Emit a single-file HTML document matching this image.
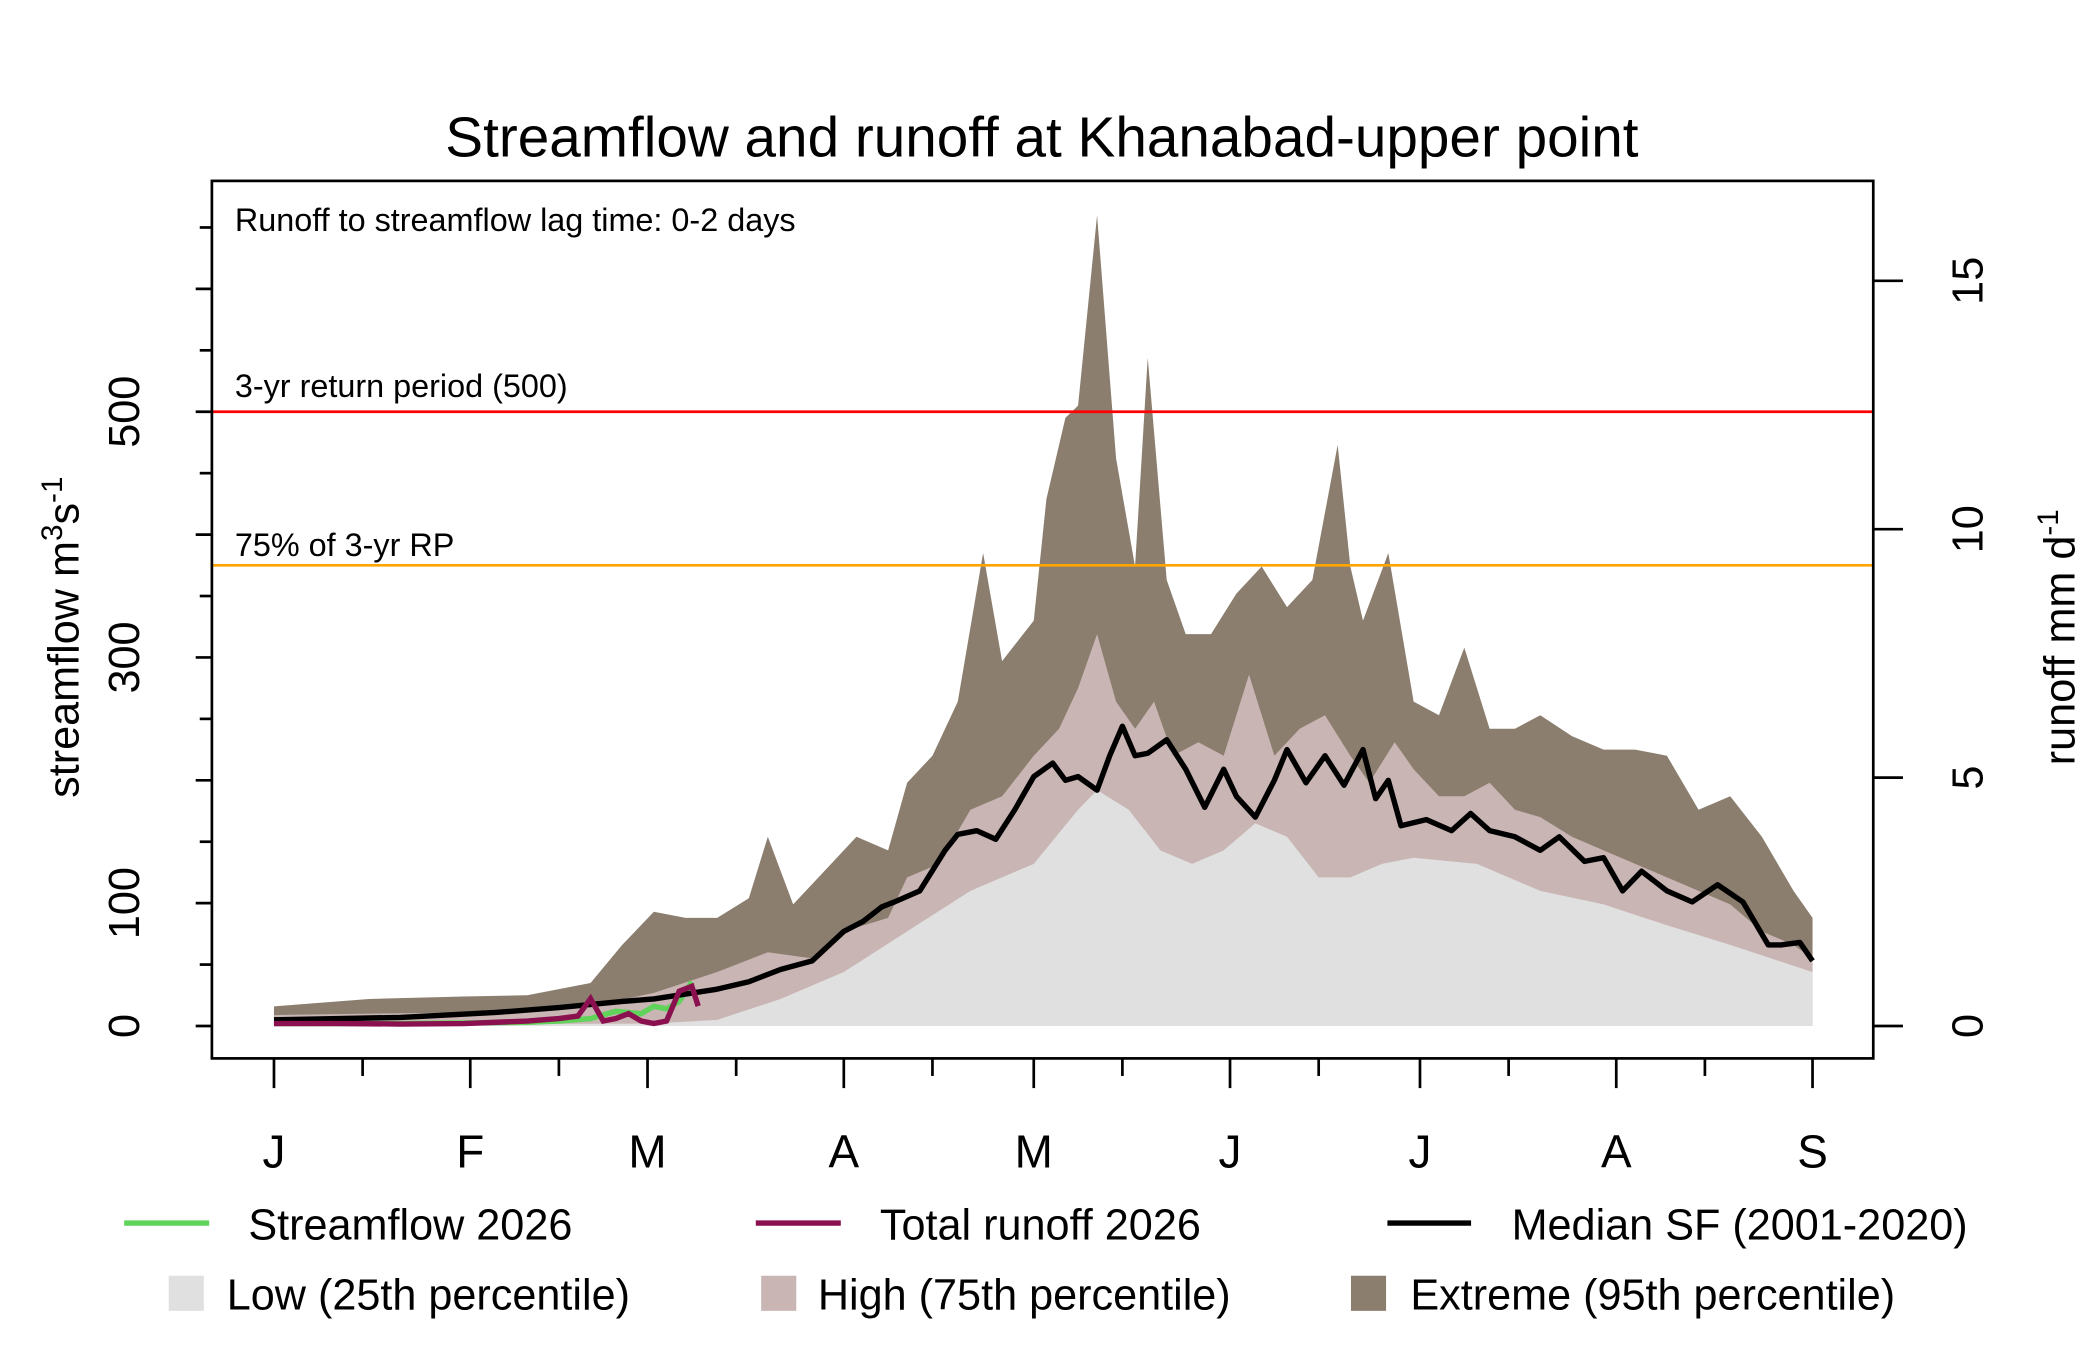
<!DOCTYPE html>
<html><head><meta charset="utf-8"><style>
html,body{margin:0;padding:0;background:#fff;}
svg{display:block;font-family:"Liberation Sans",sans-serif;}
</style></head><body>
<svg id="chart" width="2100" height="1350" viewBox="0 0 1556 1000" preserveAspectRatio="none" xmlns="http://www.w3.org/2000/svg">
<g id="areas"></g>
<g id="lines"></g>
<g id="axes"></g>
</svg>
<script>
const monthLabels = ["J","F","M","A","M","J","J","A","S"];
const monthStarts = [0,31,59,90,120,151,181,212,243];
const leftTicks = [0,100,300,500];
const rightTicks = [0,5,10,15];
const rpValue = 500;
const rp75Value = 375;

const extDays = [0,15,30,40,50,55,60,65,70,75,78,82,88,92,97,100,104,108,112,115,120,122,125,127,130,133,136,138,141,144,148,152,156,160,164,168,170,172,176,180,184,188,192,196,200,205,210,215,220,225,230,235,240,243];
const extVals = [16,22,24,25,35,66,93,88,88,104,154,99,132,154,143,198,220,264,385,297,330,429,495,505,660,462,374,544,363,319,319,352,374,341,363,473,374,330,385,264,253,308,242,242,253,236,225,225,220,176,187,154,110,88];
const highDays = [0,30,50,60,70,78,85,90,97,100,105,110,115,120,124,127,130,133,136,139,142,146,150,154,158,162,166,170,173,177,180,184,188,192,196,200,205,210,215,220,225,230,235,240,243];
const highVals = [9,11,16,27,44,60,55,77,88,121,132,176,187,220,242,275,319,264,242,264,220,231,220,286,220,242,253,220,198,231,209,187,187,198,176,170,154,143,132,121,110,99,77,66,55];
const lowDays = [0,60,70,80,90,100,110,120,127,130,135,140,145,150,155,160,165,170,175,180,190,200,210,220,230,240,243];
const lowVals = [1,2,5,22,44,77,110,132,176,192,176,143,132,143,165,154,121,121,132,137,132,110,99,82,66,49,44];
const medDays = [0,20,35,45,55,60,65,70,75,80,85,90,93,96,98,102,106,108,111,114,117,120,123,125,127,130,132,134,136,138,141,144,147,150,152,155,158,160,163,166,169,172,174,176,178,182,186,189,192,196,200,203,207,210,213,216,220,224,228,232,236,238,241,243];
const medVals = [5,7,11,15,20,22,26,30,36,46,53,77,85,97,101,110,143,156,159,152,176,203,214,200,203,192,220,244,220,222,233,209,178,209,187,170,200,225,198,220,196,225,185,200,163,168,159,173,159,154,143,154,134,137,110,126,110,101,115,101,66,66,68,53];
const sfDays = [0,20,40,45,50,54,58,60,62,64,66];
const sfVals = [2,2,3,4,6,12,10,16,14,20,36];
const roDays = [0,10,20,30,40,45,48,50,52,54,56,58,60,62,64,66,67];
const roVals = [0.05,0.05,0.04,0.05,0.1,0.15,0.2,0.55,0.1,0.15,0.25,0.1,0.05,0.1,0.7,0.8,0.4];

const X0=203, PX_DAY=(1343-203)/243, Y0=760;
const x = d => X0 + d*PX_DAY;
const yL = v => Y0 - v*0.91;
const yR = v => Y0 - v*36.8;
const NS="http://www.w3.org/2000/svg";
function mk(tag, parent, attrs){const e=document.createElementNS(NS,tag);for(const k in attrs)e.setAttribute(k,attrs[k]);parent.appendChild(e);return e;}
const areas=document.getElementById('areas'), lines=document.getElementById('lines'), axes=document.getElementById('axes');

function areaPath(days, vals){let p=`M${x(days[0])},${Y0}`;days.forEach((d,i)=>p+=` L${x(d)},${yL(vals[i])}`);p+=` L${x(days[days.length-1])},${Y0} Z`;return p;}
function linePath(days, vals, f){return days.map((d,i)=>(i?'L':'M')+x(d)+','+f(vals[i])).join(' ');}

let e;
e=mk('path',areas,{d:areaPath(extDays,extVals),fill:'#8b7e6e'});


e=mk('path',areas,{d:areaPath(highDays,highVals),fill:'#c9b5b3'});


e=mk('path',areas,{d:areaPath(lowDays,lowVals),fill:'#e0e0e0'});



e=mk('line',lines,{x1:157,x2:1388,y1:yL(rpValue),y2:yL(rpValue),stroke:'#ff0000','stroke-width':2});


e=mk('line',lines,{x1:157,x2:1388,y1:yL(rp75Value),y2:yL(rp75Value),stroke:'#ffa500','stroke-width':2});



e=mk('path',lines,{d:linePath(sfDays,sfVals,yL),fill:'none',stroke:'#5fd35a','stroke-width':4});


e=mk('path',lines,{d:linePath(medDays,medVals,yL),fill:'none',stroke:'#000','stroke-width':4,'stroke-linejoin':'round'});


e=mk('path',lines,{d:linePath(roDays,roVals,yR),fill:'none',stroke:'#8b1050','stroke-width':4});



e=mk('rect',axes,{x:157,y:134,width:1231,height:650,fill:'none',stroke:'#000','stroke-width':2});



monthStarts.forEach((d,i)=>{
  mk('line',axes,{x1:x(d),x2:x(d),y1:784,y2:806,stroke:'#000','stroke-width':2});
  const t=mk('text',axes,{x:x(d),y:865,'font-size':34,'text-anchor':'middle'});t.textContent=monthLabels[i];
  
  
  if(i<monthStarts.length-1) mk('line',axes,{x1:x(d+14),x2:x(d+14),y1:784,y2:797,stroke:'#000','stroke-width':2});
});
for(let v=0; v<=650; v+=50){
  const major = v%100===0;
  mk('line',axes,{x1:157,x2:major?145:148,y1:yL(v),y2:yL(v),stroke:'#000','stroke-width':2});
}
leftTicks.forEach(v=>{
  const t=mk('text',axes,{x:0,y:0,'font-size':32,'text-anchor':'middle',transform:`translate(103,${yL(v)}) rotate(-90)`});t.textContent=v;
  
  
});
rightTicks.forEach(v=>{
  mk('line',axes,{x1:1388,x2:1410,y1:yR(v),y2:yR(v),stroke:'#000','stroke-width':2});
  const t=mk('text',axes,{x:0,y:0,'font-size':32,'text-anchor':'middle',transform:`translate(1469,${yR(v)}) rotate(-90)`});t.textContent=v;
  
  
});
</script>
<svg style="position:absolute;left:0;top:0" width="2100" height="1350" viewBox="0 0 1556 1000" preserveAspectRatio="none" xmlns="http://www.w3.org/2000/svg" font-family="Liberation Sans, sans-serif">
<text x="772" y="116" font-size="42" text-anchor="middle">Streamflow and runoff at Khanabad-upper point</text>
<text x="174" y="171" font-size="24">Runoff to streamflow lag time: 0-2 days</text>
<text x="174" y="294" font-size="24">3-yr return period (500)</text>
<text x="174" y="412" font-size="24">75% of 3-yr RP</text>
<text transform="translate(58,472) rotate(-90)" font-size="32" text-anchor="middle">streamflow m<tspan font-size="22" dy="-12">3</tspan><tspan dy="12">s</tspan><tspan font-size="22" dy="-12">-1</tspan></text>
<text transform="translate(1537,472) rotate(-90)" font-size="32" text-anchor="middle">runoff mm d<tspan font-size="22" dy="-12">-1</tspan></text>
<g font-size="32">
<line x1="92" x2="155" y1="906" y2="906" stroke="#5fd35a" stroke-width="4"/>
<text x="184" y="918">Streamflow 2026</text>
<line x1="560" x2="623" y1="906" y2="906" stroke="#8b1050" stroke-width="4"/>
<text x="652" y="918">Total runoff 2026</text>
<line x1="1028" x2="1090" y1="906" y2="906" stroke="#000" stroke-width="4"/>
<text x="1120" y="918">Median SF (2001-2020)</text>
<rect x="125" y="945" width="26" height="26" fill="#e0e0e0"/>
<text x="168" y="970">Low (25th percentile)</text>
<rect x="564" y="945" width="26" height="26" fill="#c9b5b3"/>
<text x="606" y="970">High (75th percentile)</text>
<rect x="1001" y="945" width="26" height="26" fill="#8b7e6e"/>
<text x="1045" y="970">Extreme (95th percentile)</text>
</g>
</svg>
</body></html>
